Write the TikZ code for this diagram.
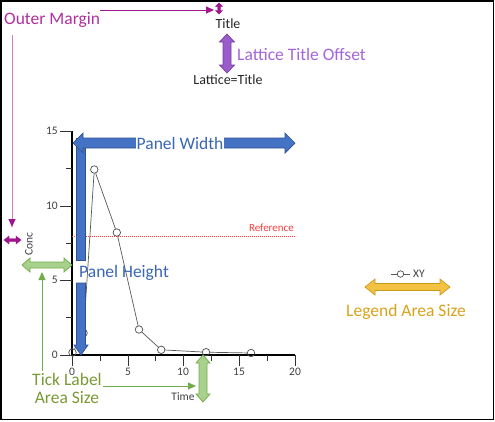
\documentclass[tikz,border=0pt]{standalone}
\usepackage{fontspec}
\setmainfont{Carlito}
\usetikzlibrary{arrows.meta}
\definecolor{blueF}{HTML}{4472C4}
\definecolor{blueD}{HTML}{2F528F}
\definecolor{blueT}{HTML}{3A66B5}
\definecolor{greenF}{HTML}{A9D18E}
\definecolor{greenD}{HTML}{70AD47}
\definecolor{greenT}{HTML}{7A9A34}
\definecolor{goldF}{HTML}{F4C242}
\definecolor{goldD}{HTML}{C79A1E}
\definecolor{goldT}{HTML}{D9A21B}
\definecolor{purF}{HTML}{9A5CCB}
\definecolor{purD}{HTML}{7A3FA8}
\definecolor{purT}{HTML}{A466D8}
\definecolor{magT}{HTML}{B0309F}
\definecolor{magA}{HTML}{A0168F}
\definecolor{magL}{HTML}{D07FD0}
\definecolor{tickT}{HTML}{404040}
\definecolor{refR}{HTML}{FF3B3B}
\newcommand{\HDarrow}[7]{%
 \path[#1] (#2,#4) -- ({#2+#7},{#4-#6}) -- ({#2+#7},{#4-#5}) -- ({#3-#7},{#4-#5}) -- ({#3-#7},{#4-#6}) -- (#3,#4) -- ({#3-#7},{#4+#6}) -- ({#3-#7},{#4+#5}) -- ({#2+#7},{#4+#5}) -- ({#2+#7},{#4+#6}) -- cycle;}
\newcommand{\VDarrow}[7]{%
 \path[#1] (#4,#2) -- ({#4-#6},{#2+#7}) -- ({#4-#5},{#2+#7}) -- ({#4-#5},{#3-#7}) -- ({#4-#6},{#3-#7}) -- (#4,#3) -- ({#4+#6},{#3-#7}) -- ({#4+#5},{#3-#7}) -- ({#4+#5},{#2+#7}) -- ({#4+#6},{#2+#7}) -- cycle;}
\tikzset{
  big/.style={font=\fontsize{17.5}{19}\selectfont, inner sep=1pt},
  small/.style={font=\fontsize{14}{15}\selectfont, text=black!85, inner sep=1pt},
  tiny/.style={font=\fontsize{11.5}{12}\selectfont, text=tickT, inner sep=1pt},
  axis/.style={line width=1.6pt, black},
  tck/.style={line width=0.9pt, black!80},
  pt/.style={circle, draw=black!70, line width=0.7pt, minimum size=7.5pt, inner sep=0pt},
  dline/.style={draw=black!65, line width=0.7pt},
  bluearrow/.style={fill=blueF, draw=blueD, line width=0.7pt},
  greenarrow/.style={fill=greenF, draw=greenD, line width=0.7pt},
  goldarrow/.style={fill=goldF, draw=goldD, line width=0.7pt},
  purarrow/.style={fill=purF, draw=purD, line width=0.7pt},
  magarrow/.style={fill=magA, draw=magA, line width=0.4pt},
  thinarrow/.style={line width=0.9pt, -{Triangle[length=8pt,width=7pt]}},
}
\begin{document}
\begin{tikzpicture}[x=1pt,y=-1pt]
\useasboundingbox (0,0) rectangle (495,421);
\fill[white] (0,0) rectangle (495,421);
\draw[line width=1.5pt, black] (1,1) rectangle (493.5,419.5);

% --- axes ---
\draw[axis] (72,131) -- (72,355) -- (295,355);
% y ticks
\foreach \v/\y in {15/131,10/206,5/280,0/355}{
  \draw[tck] (60,\y) -- (72,\y);
  \node[tiny, anchor=east] at (59,\y) {\v};
}
\foreach \y in {168,243,317}{ \draw[tck] (66,\y) -- (72,\y); }
% x ticks
\foreach \v/\x in {0/72,5/128,10/183,15/239,20/295}{
  \draw[tck] (\x,355) -- (\x,366);
  \node[tiny, anchor=north] at (\x,367) {\v};
}
\foreach \x in {100,155,211,267}{ \draw[tck] (\x,355) -- (\x,361); }

% reference line
\draw[refR, line width=0.8pt, dash pattern=on 1pt off 1pt] (72,236) -- (295,236);
\node[font=\fontsize{11}{12}\selectfont, text=refR, anchor=south east, inner sep=1pt] (ref) at (295,233) {Reference};

% axis labels
\node[tiny, rotate=90] (conc) at (29,244) {Conc};
\node[tiny] (time) at (183,397) {Time};

% --- data ---
\node[pt] (p0) at (72.5,352.5) {};
\node[pt] (p1) at (83.5,333) {};
\node[pt] (p2) at (94.3,169.5) {};
\node[pt] (p3) at (116.8,232.5) {};
\node[pt] (p4) at (139,329.5) {};
\node[pt] (p5) at (161.2,349.8) {};
\node[pt] (p6) at (206,352.2) {};
\node[pt] (p7) at (251,353) {};
\draw[dline] (p0) -- (p1) -- (p2) -- (p3) -- (p4) -- (p5) -- (p6) -- (p7);

% --- Panel Height arrow (vertical, with gap) ---
\path[bluearrow] (76.5,138) rectangle (85.5,260);
\path[bluearrow] (76.5,283) -- (76.5,345) -- (74,345) -- (81,355) -- (88,345) -- (85.5,345) -- (85.5,283) -- cycle;
\node[big, text=blueT, anchor=west] (ph) at (78,273) {Panel Height};

% --- Panel Width arrow ---
\HDarrow{bluearrow}{73}{295}{143}{5}{10}{10}
\node[big, text=blueT, anchor=west, fill=white, inner xsep=1pt, inner ysep=1.5pt] (pw) at (135.5,143) {Panel Width};

% --- Title part ---
\node[small] (title) at (228,24) {Title};
\node[small] (lat) at (228,80) {Lattice=Title};
\VDarrow{purarrow}{34}{73}{227}{4}{7.5}{8}
\node[big, text=purT, anchor=west] (lto) at (236,54) {Lattice Title Offset};

% --- Outer margin ---
\node[big, text=magT, anchor=west] (om) at (3,20) {Outer Margin};
\VDarrow{magarrow}{3}{14}{219}{1.3}{3.5}{3.5}
\coordinate (omA) at (100,10);
\coordinate (omB) at (214,10);
\draw[thinarrow, magA] (omA) -- (omB);
\coordinate (omC) at (12,35);
\coordinate (omD) at (12,227);
\draw[magL, line width=1pt] (omC) -- (12,219);
\draw[thinarrow, magA, line width=0.1pt] (12,218.5) -- (omD);
\HDarrow{magarrow}{4}{21}{240}{1.5}{4}{5}

% --- Tick label area size ---
\HDarrow{greenarrow}{22}{72}{265}{3}{7}{8}
\VDarrow{greenarrow}{355}{402}{203}{4}{7}{8}
\node[big, text=greenT, align=center, font=\fontsize{17.5}{18}\selectfont] (tl) at (67,388) {Tick Label\\Area Size};
\coordinate (tlA) at (42,371);
\coordinate (tlB) at (42,272);
\draw[thinarrow, greenD, line width=0.8pt] (tlA) -- (tlB);
\coordinate (tlC) at (103,386);
\coordinate (tlD) at (196,386);
\draw[thinarrow, greenD, line width=0.8pt] (tlC) -- (tlD);

% --- Legend ---
\coordinate (lgA) at (391,274);
\coordinate (lgB) at (410,274);
\draw[dline] (lgA) -- (lgB);
\node[pt, minimum size=6.5pt, fill=white] (lgp) at (400.5,274) {};
\node[tiny, anchor=west] (xy) at (412,274) {XY};
\HDarrow{goldarrow}{365}{450}{287}{3.5}{8}{10}
\node[big, text=goldT] (las) at (406,312) {Legend Area Size};
\end{tikzpicture}
\end{document}
